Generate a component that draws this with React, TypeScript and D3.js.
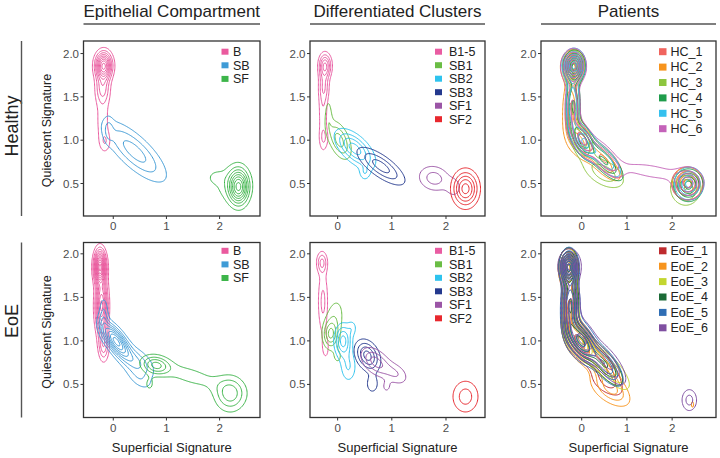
import React, { useMemo } from "react";
import * as d3 from "d3";

// component: [centerX, centerY, sigmaMajor, sigmaMinor, angleDeg, peakHeight]
type Comp = number[];

const compartmentKeys = ["B", "SB", "SF"];
const clusterKeys = ["B1-5", "SB1", "SB2", "SB3", "SF1", "SF2"];
const healthyPatientKeys = ["HC_1", "HC_2", "HC_3", "HC_4", "HC_5", "HC_6"];
const eoePatientKeys = ["EoE_1", "EoE_2", "EoE_3", "EoE_4", "EoE_5", "EoE_6"];

const compartmentColors = ["#EA5A9E", "#3F9BD6", "#3DB54A"];
const clusterColors = ["#E95CA2", "#6ABD45", "#2EC3EE", "#24398E", "#9B55A6", "#E8282E"];
const healthyPatientColors = ["#F0645E", "#F7941D", "#8DC63F", "#1E9C4B", "#35C0EE", "#C462B9"];
const eoePatientColors = ["#BE2A2E", "#F7941D", "#C3D62F", "#1B6A36", "#2F6EB5", "#7F4FA1"];

const xTicks = [0, 1, 2];
const yTicks = [0.5, 1.0, 1.5, 2.0];
const columnTitles = ["Epithelial Compartment", "Differentiated Clusters", "Patients"];
const rowTitles = ["Healthy", "EoE"];
const xTitle = "Superficial Signature";
const yTitle = "Quiescent Signature";

// ---- density shapes ----
const healthyCompartmentShapes: Comp[][] = [
  [[-0.18, 1.86, 0.1, 0.1, 90, 1], [-0.2, 1.6, 0.12, 0.09, 90, 0.35], [-0.2, 1.22, 0.22, 0.1, 90, 0.16], [-0.15, 0.98, 0.08, 0.07, 90, 0.15]],
  [[0.4, 0.87, 0.42, 0.13, -27, 1], [-0.09, 1.12, 0.1, 0.06, 90, 0.35]],
  [[2.36, 0.46, 0.12, 0.13, 0, 1], [2.2, 0.5, 0.25, 0.15, 0, 0.2], [1.92, 0.57, 0.1, 0.05, 0, 0.12]],
];
const healthyCompartmentLevels = [9, 3, 8];

const healthyClusterShapes: Comp[][] = [
  [[-0.23, 1.86, 0.09, 0.075, 90, 1], [-0.25, 1.62, 0.12, 0.065, 90, 0.45], [-0.27, 1.3, 0.3, 0.06, 90, 0.35], [-0.25, 1.02, 0.08, 0.06, 90, 0.25]],
  [[0.03, 1.0, 0.17, 0.1, -45, 1], [-0.17, 1.3, 0.14, 0.05, 90, 0.4]],
  [[0.32, 0.9, 0.24, 0.1, -25, 1], [0.5, 0.62, 0.07, 0.06, 0, 0.35]],
  [[0.8, 0.7, 0.3, 0.085, -22, 1]],
  [[1.78, 0.56, 0.2, 0.1, -5, 1], [2.15, 0.45, 0.1, 0.08, 0, 0.55]],
  [[2.36, 0.44, 0.15, 0.13, 0, 1]],
];
const healthyClusterLevels = [5, 3, 4, 3, 2, 5];

const healthyPatientShapes: Comp[][] = [
  [[-0.17, 1.86, 0.13, 0.1, 0, 1], [-0.2, 1.4, 0.2, 0.1, 90, 0.5], [0.0, 1.02, 0.17, 0.1, -35, 0.65], [0.5, 0.78, 0.28, 0.09, -25, 0.5], [2.33, 0.5, 0.2, 0.11, 0, 0.7]],
  [[-0.2, 1.85, 0.14, 0.1, 0, 1], [-0.25, 1.35, 0.22, 0.11, 90, 0.5], [-0.05, 1.0, 0.18, 0.11, -30, 0.6], [0.45, 0.75, 0.3, 0.09, -25, 0.45], [2.35, 0.5, 0.2, 0.11, 0, 0.7]],
  [[-0.18, 1.84, 0.13, 0.1, 0, 1], [-0.2, 1.4, 0.2, 0.1, 90, 0.5], [0.0, 1.0, 0.17, 0.11, -35, 0.6], [0.5, 0.62, 0.3, 0.1, -12, 0.45], [2.3, 0.45, 0.2, 0.12, 0, 0.65]],
  [[-0.16, 1.85, 0.13, 0.1, 0, 1], [-0.18, 1.4, 0.2, 0.1, 90, 0.5], [0.02, 1.0, 0.16, 0.1, -35, 0.65], [0.5, 0.76, 0.3, 0.09, -25, 0.5], [2.36, 0.48, 0.19, 0.11, 0, 0.7]],
  [[-0.17, 1.87, 0.14, 0.1, 0, 1], [-0.2, 1.42, 0.2, 0.1, 90, 0.45], [0.05, 0.98, 0.17, 0.1, -30, 0.6], [0.5, 0.78, 0.27, 0.09, -25, 0.45], [2.38, 0.5, 0.19, 0.11, 0, 0.7]],
  [[-0.18, 1.85, 0.15, 0.11, 0, 1], [-0.2, 1.4, 0.2, 0.11, 90, 0.5], [0.0, 1.02, 0.18, 0.1, -35, 0.6], [0.5, 0.8, 0.3, 0.1, -25, 0.45], [1.55, 0.64, 0.5, 0.06, -5, 0.28], [2.35, 0.5, 0.2, 0.11, 0, 0.7]],
];
const healthyPatientLevels = [6, 6, 6, 6, 6, 6];

const eoeCompartmentShapes: Comp[][] = [
  [[-0.25, 1.85, 0.12, 0.07, 90, 1], [-0.22, 1.4, 0.2, 0.075, 90, 0.7], [-0.18, 0.95, 0.12, 0.065, 90, 0.3]],
  [[0.05, 1.0, 0.2, 0.08, -35, 1], [0.45, 0.75, 0.22, 0.1, -20, 0.35], [-0.18, 1.3, 0.14, 0.06, 90, 0.25], [0.5, 0.55, 0.17, 0.07, -20, 0.15]],
  [[0.8, 0.72, 0.17, 0.07, -5, 1], [2.2, 0.39, 0.19, 0.13, 0, 0.9], [1.45, 0.6, 0.5, 0.09, -10, 0.35], [0.68, 0.5, 0.08, 0.07, 0, 0.3]],
];
const eoeCompartmentLevels = [12, 8, 4];

const eoeClusterShapes: Comp[][] = [
  [[-0.29, 1.9, 0.08, 0.065, 90, 1], [-0.27, 1.45, 0.25, 0.065, 90, 0.75], [-0.22, 0.92, 0.12, 0.06, 90, 0.4]],
  [[-0.13, 1.07, 0.1, 0.09, 90, 1], [-0.06, 1.25, 0.18, 0.12, 70, 0.5], [0.0, 0.82, 0.07, 0.07, 0, 0.35]],
  [[0.1, 1.0, 0.12, 0.1, 90, 1], [0.2, 0.7, 0.12, 0.1, 90, 0.45], [0.27, 1.15, 0.06, 0.06, 0, 0.3]],
  [[0.55, 0.83, 0.15, 0.1, -25, 1], [0.64, 0.5, 0.09, 0.08, 0, 0.35]],
  [[0.7, 0.76, 0.18, 0.09, -20, 1], [1.08, 0.62, 0.16, 0.08, -15, 0.55], [0.9, 0.47, 0.06, 0.05, 0, 0.35]],
  [[2.36, 0.36, 0.17, 0.13, 0, 1]],
];
const eoeClusterLevels = [3, 4, 4, 4, 3, 2];

const eoePatientShapes: Comp[][] = [
  [[-0.3, 1.84, 0.11, 0.11, 90, 1], [-0.27, 1.4, 0.22, 0.11, 90, 0.6], [-0.05, 1.0, 0.2, 0.11, -30, 0.7], [0.45, 0.72, 0.3, 0.1, -30, 0.45], [0.5, 0.5, 0.25, 0.08, -15, 0.2]],
  [[-0.29, 1.85, 0.11, 0.11, 90, 1], [-0.26, 1.4, 0.22, 0.11, 90, 0.6], [-0.05, 0.98, 0.2, 0.11, -30, 0.7], [0.45, 0.7, 0.3, 0.1, -30, 0.45], [0.62, 0.43, 0.3, 0.1, -15, 0.38], [2.45, 0.27, 0.03, 0.04, 0, 0.2]],
  [[-0.3, 1.84, 0.11, 0.11, 90, 1], [-0.25, 1.4, 0.22, 0.11, 90, 0.6], [-0.02, 1.0, 0.2, 0.11, -30, 0.7], [0.62, 0.68, 0.3, 0.09, -25, 0.5]],
  [[-0.29, 1.85, 0.11, 0.11, 90, 1], [-0.25, 1.42, 0.22, 0.11, 90, 0.6], [-0.03, 1.0, 0.2, 0.1, -30, 0.7], [0.5, 0.74, 0.3, 0.1, -28, 0.45]],
  [[-0.28, 1.85, 0.11, 0.11, 90, 1], [-0.25, 1.4, 0.22, 0.12, 90, 0.65], [-0.02, 1.0, 0.2, 0.12, -30, 0.75], [0.5, 0.74, 0.28, 0.1, -28, 0.5]],
  [[-0.27, 1.86, 0.1, 0.13, 90, 1], [-0.24, 1.42, 0.22, 0.12, 90, 0.6], [0.0, 1.02, 0.2, 0.12, -30, 0.7], [0.55, 0.76, 0.3, 0.1, -28, 0.5], [2.38, 0.32, 0.12, 0.09, 0, 0.35]],
];
const eoePatientLevels = [7, 7, 7, 7, 8, 7];

// ---- layout ----
const FONT = "'Liberation Sans', Arial, Helvetica, sans-serif";
const colLayout = [
  { left: 83.5, right: 260, x0: -0.56, x1: 2.76, keyX: 221.5, textX: 233, rowGap: 13.6, keyW: 7, keyH: 6 },
  { left: 310, right: 485, x0: -0.51, x1: 2.72, keyX: 435, textX: 449, rowGap: 13.5, keyW: 7, keyH: 6 },
  { left: 541, right: 716, x0: -0.9, x1: 2.97, keyX: 659, textX: 670.5, rowGap: 15.4, keyW: 7.5, keyH: 7 },
];
const rowLayout = [
  { top: 41, bottom: 216, y0: 0.125, y1: 2.145, legendY: 51.7, labelY: 126 },
  { top: 242.5, bottom: 417.5, y0: 0.12, y1: 2.13, legendY: 250.8, labelY: 321 },
];

const panelData = [
  [
    { keys: compartmentKeys, colors: compartmentColors, shapes: healthyCompartmentShapes, levels: healthyCompartmentLevels },
    { keys: clusterKeys, colors: clusterColors, shapes: healthyClusterShapes, levels: healthyClusterLevels },
    { keys: healthyPatientKeys, colors: healthyPatientColors, shapes: healthyPatientShapes, levels: healthyPatientLevels },
  ],
  [
    { keys: compartmentKeys, colors: compartmentColors, shapes: eoeCompartmentShapes, levels: eoeCompartmentLevels },
    { keys: clusterKeys, colors: clusterColors, shapes: eoeClusterShapes, levels: eoeClusterLevels },
    { keys: eoePatientKeys, colors: eoePatientColors, shapes: eoePatientShapes, levels: eoePatientLevels },
  ],
];

function density(comps: Comp[], x: number, y: number) {
  let s = 0;
  for (const [cx, cy, a, b, ang, h] of comps) {
    const t = (ang * Math.PI) / 180;
    const c = Math.cos(t), sn = Math.sin(t);
    const dx = x - cx, dy = y - cy;
    const u = (dx * c + dy * sn) / a;
    const v = (-dx * sn + dy * c) / b;
    s += h * Math.exp(-0.5 * (u * u + v * v));
  }
  return s;
}

function Panel({ r, c }: { r: number; c: number }) {
  const col = colLayout[c];
  const row = rowLayout[r];
  const data = panelData[r][c];
  const xs = d3.scaleLinear().domain([col.x0, col.x1]).range([col.left, col.right]);
  const ys = d3.scaleLinear().domain([row.y0, row.y1]).range([row.bottom, row.top]);
  const clipId = `clip-${r}-${c}`;

  const paths = useMemo(() => {
    const nx = 220, ny = 140;
    const stepX = (col.x1 - col.x0) / (nx - 1);
    const stepY = (row.y1 - row.y0) / (ny - 1);
    const proj = d3.geoTransform({
      point: function (this: any, gx: number, gy: number) {
        this.stream.point(xs(col.x0 + (gx - 0.5) * stepX), ys(row.y1 - (gy - 0.5) * stepY));
      },
    });
    const gp = d3.geoPath(proj);
    const out: { d: string; color: string; key: string }[] = [];
    data.shapes.forEach((comps, si) => {
      const values = new Float64Array(nx * ny);
      for (let j = 0; j < ny; j++) {
        const y = row.y1 - j * stepY;
        for (let i = 0; i < nx; i++) {
          values[i + j * nx] = density(comps, col.x0 + i * stepX, y);
        }
      }
      const mx = d3.max(values) as number;
      const n = data.levels[si];
      const th = d3.range(1, n + 1).map((k) => (k * mx) / (n + 0.5));
      const cs = d3.contours().size([nx, ny]).thresholds(th)(Array.from(values));
      cs.forEach((g, gi) => {
        const d = gp(g as any);
        if (d) out.push({ d, color: data.colors[si], key: `${si}-${gi}` });
      });
    });
    return out;
  }, [r, c]);

  return (
    <g>
      <defs>
        <clipPath id={clipId}>
          <rect x={col.left} y={row.top} width={col.right - col.left} height={row.bottom - row.top} />
        </clipPath>
      </defs>
      <rect x={col.left} y={row.top} width={col.right - col.left} height={row.bottom - row.top} fill="#fff" />
      <g clipPath={`url(#${clipId})`}>
        {paths.map((p) => (
          <path key={p.key} d={p.d} fill="none" stroke={p.color} strokeWidth={1} strokeLinejoin="round" />
        ))}
      </g>
      <rect x={col.left} y={row.top} width={col.right - col.left} height={row.bottom - row.top} fill="none" stroke="#333" strokeWidth={1.3} />
      {xTicks.map((t) => (
        <g key={`xt${t}`}>
          <line x1={xs(t)} x2={xs(t)} y1={row.bottom} y2={row.bottom + 3} stroke="#333" strokeWidth={1} />
          <text x={xs(t)} y={row.bottom + 14} textAnchor="middle" fontSize={11.5} fill="#4d4d4d" fontFamily={FONT}>
            {t}
          </text>
        </g>
      ))}
      {yTicks.map((t) => (
        <g key={`yt${t}`}>
          <line x1={col.left - 3} x2={col.left} y1={ys(t)} y2={ys(t)} stroke="#333" strokeWidth={1} />
          <text x={col.left - 4.5} y={ys(t) + 4} textAnchor="end" fontSize={11.5} fill="#4d4d4d" fontFamily={FONT}>
            {t.toFixed(1)}
          </text>
        </g>
      ))}
      {data.keys.map((k, i) => (
        <g key={`lg${k}`}>
          <rect x={col.keyX} y={row.legendY + i * col.rowGap - col.keyH / 2} width={col.keyW} height={col.keyH} fill={data.colors[i]} />
          <text x={col.textX} y={row.legendY + i * col.rowGap + 4.3} fontSize={12.5} fill="#222" fontFamily={FONT}>
            {k}
          </text>
        </g>
      ))}
    </g>
  );
}

export default function App() {
  return (
    <svg width={720} height={458} style={{ position: "absolute", left: 0, top: 0, background: "#fff" }} fontFamily={FONT}>
      <rect x={0} y={0} width={720} height={458} fill="#fff" />
      {columnTitles.map((t, i) => (
        <g key={t}>
          <text x={(colLayout[i].left + colLayout[i].right) / 2} y={17} textAnchor="middle" fontSize={17} fill="#222">
            {t}
          </text>
          <line x1={colLayout[i].left} x2={colLayout[i].right} y1={24} y2={24} stroke="#555" strokeWidth={1.4} />
        </g>
      ))}
      {rowTitles.map((t, i) => (
        <g key={t}>
          <text transform={`translate(17.5, ${rowLayout[i].labelY}) rotate(-90)`} textAnchor="middle" fontSize={18} fill="#222">
            {t}
          </text>
          <line x1={21.5} x2={21.5} y1={rowLayout[i].top} y2={rowLayout[i].bottom} stroke="#555" strokeWidth={1.4} />
          <text transform={`translate(51, ${(rowLayout[i].top + rowLayout[i].bottom) / 2 + 2}) rotate(-90)`} textAnchor="middle" fontSize={12.5} fill="#222">
            {yTitle}
          </text>
        </g>
      ))}
      {colLayout.map((c, i) => (
        <text key={`xt${i}`} x={(c.left + c.right) / 2} y={452} textAnchor="middle" fontSize={13} fill="#222">
          {xTitle}
        </text>
      ))}
      {[0, 1].map((r) => [0, 1, 2].map((c) => <Panel key={`${r}-${c}`} r={r} c={c} />))}
    </svg>
  );
}
